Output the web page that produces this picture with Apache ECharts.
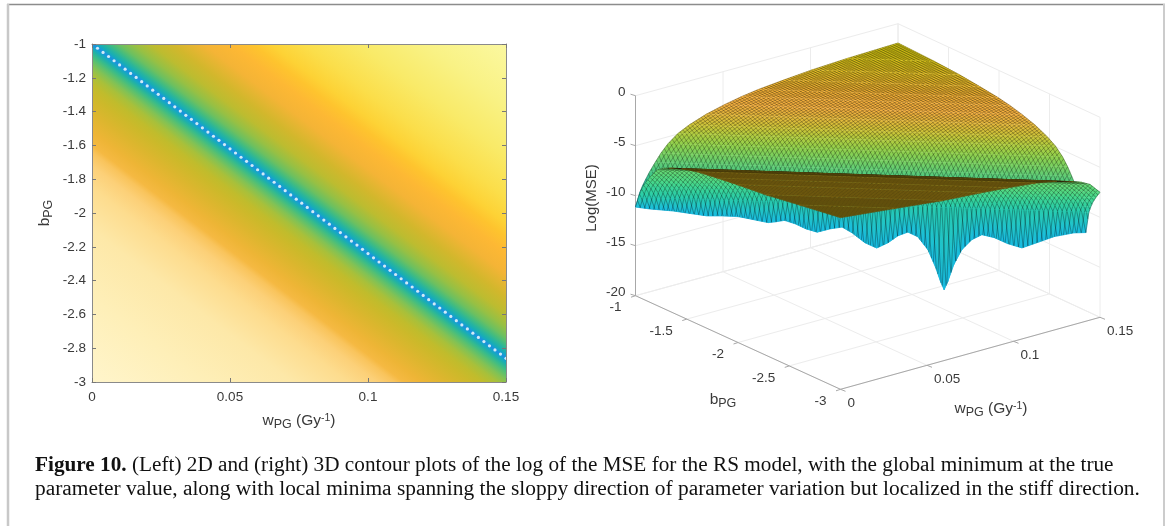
<!DOCTYPE html>
<html><head><meta charset="utf-8">
<style>html,body{margin:0;padding:0;background:#fff}#c{width:1170px;height:526px;filter:blur(0.35px)}</style>
<script src="https://cdn.jsdelivr.net/npm/echarts@6/dist/echarts.min.js"></script>
</head><body><div id="c"></div>
<script>
// ---- Left panel: filled contour lines, read at the w=0 and w=0.15 edges of the plot
const contourB0  = [-3,-2.5,-2.1,-1.85,-1.72,-1.64,-1.6,-1.52,-1.4,-1.3,-1.24,-1.18,-1.13,-1.09,-1.06,-1.04,-1.025,-1.012,-1,-0.988,-0.97,-0.95,-0.92,-0.88,-0.82,-0.74,-0.64,-0.5,-0.38,-0.28,-0.2,-0.05,0.2,0.5,0.86];
const contourB15 = [-4.86,-4.36,-3.96,-3.71,-3.58,-3.5,-3.46,-3.38,-3.26,-3.16,-3.1,-3.04,-2.99,-2.95,-2.92,-2.9,-2.885,-2.872,-2.86,-2.848,-2.83,-2.81,-2.78,-2.74,-2.68,-2.6,-2.5,-2.36,-2.24,-2.14,-2.06,-1.91,-1.66,-1.36,-1];
const contourFill = ['#fff5cb','#feefb8','#fde8a8','#fddc8e','#fcd078','#f9c45c','#f5b942','#eeb536','#dcb62e','#ccb92a','#c0bc2c','#a8c03a','#82c254','#58c070','#36bb8c','#22b2a4','#18aabc','#16a0d0','#1e8fe0','#16a0d0','#18aeb4','#26b4a0','#42bc80','#6cc060','#96c044','#bcbc30','#d2b72c','#f4b436','#fdb834','#fec42e','#fdd235','#fbde4a','#f9ea68','#f9f285','#fbf8a0'];
// White dots along the minimum line
const dotW = [0,0.002,0.004,0.006,0.008,0.01,0.012,0.014,0.016,0.018,0.02,0.022,0.024,0.026,0.028,0.03,0.032,0.034,0.036,0.038,0.04,0.042,0.044,0.046,0.048,0.05,0.052,0.054,0.056,0.058,0.06,0.062,0.064,0.066,0.068,0.07,0.072,0.074,0.076,0.078,0.08,0.082,0.084,0.086,0.088,0.09,0.092,0.094,0.096,0.098,0.1,0.102,0.104,0.106,0.108,0.11,0.112,0.114,0.116,0.118,0.12,0.122,0.124,0.126,0.128,0.13,0.132,0.134,0.136,0.138,0.14,0.142,0.144,0.146,0.148,0.15];
const dotB = [-1,-1.025,-1.05,-1.074,-1.099,-1.124,-1.149,-1.174,-1.198,-1.223,-1.248,-1.273,-1.298,-1.322,-1.347,-1.372,-1.397,-1.422,-1.446,-1.471,-1.496,-1.521,-1.546,-1.57,-1.595,-1.62,-1.645,-1.67,-1.694,-1.719,-1.744,-1.769,-1.794,-1.818,-1.843,-1.868,-1.893,-1.918,-1.942,-1.967,-1.992,-2.017,-2.042,-2.066,-2.091,-2.116,-2.141,-2.166,-2.19,-2.215,-2.24,-2.265,-2.29,-2.314,-2.339,-2.364,-2.389,-2.414,-2.438,-2.463,-2.488,-2.513,-2.538,-2.562,-2.587,-2.612,-2.637,-2.662,-2.686,-2.711,-2.736,-2.761,-2.786,-2.81,-2.835,-2.86];
// ---- Right panel: Log(MSE)
// along the valley floor
const valleyW = [0,0.0048,0.0125,0.0182,0.0237,0.0287,0.0338,0.038,0.044,0.0464,0.0494,0.053,0.0566,0.0603,0.0647,0.0686,0.0719,0.0762,0.0801,0.0839,0.0872,0.0905,0.0938,0.0972,0.0998,0.1014,0.1026,0.1038,0.1058,0.1085,0.1118,0.1152,0.1194,0.1238,0.1286,0.1337,0.1394,0.146,0.15];
const valleyZ = [-11.13,-11.28,-11.4,-11.6,-11.78,-11.73,-11.73,-11.94,-12.25,-12.15,-11.97,-12.28,-12.75,-13.04,-12.66,-12.45,-12.99,-13.94,-14.43,-13.86,-13.13,-12.73,-13.16,-14.43,-16.2,-17.58,-18.37,-17.56,-15.84,-14.31,-13.28,-12.74,-13,-13.55,-13.93,-13.35,-12.69,-12.25,-12.18];
// across the valley: offset in b from the valley line, and Log(MSE) there
const farOffset  = [0,0.03,0.05,0.07,0.1,0.14,0.18,0.23,0.3,0.38,0.5,0.63,0.75,0.87,1.05,1.25,1.5,1.86];
const farZ       = [null,-9.8,-9.2,-8.7,-8,-7.2,-6.45,-5.7,-4.95,-4.4,-3.8,-3.34,-3,-2.75,-2.5,-2.26,-2.08,-1.93];
const farFill    = ['#12a0c8','#18aab0','#22b4a0','#30c098','#48c884','#60cc74','#78d060','#90d04c','#b0cc40','#ccc438','#e4b83c','#f4b040','#f4b03c','#f2b034','#ecb82c','#e8c424','#e2cc18','#dcd010'];
const nearOffset = [0,0.03,0.05,0.07,0.1,0.14,0.21,0.27,0.33,0.45,0.6,0.8,0.99,1.27,1.6,2];
const nearZ      = [null,-10,-9.35,-8.8,-8.2,-7.5,-6.45,-6,-5.7,-5.2,-4.8,-4.5,-4.26,-3.97,-3.45,-2.84];
const nearFill   = ['#18bce0','#28ccb0','#30d0a0','#3ad498','#46d88c','#54d880','#66d872','#70d86a','#7cd462','#8c7414','#907414','#907414','#907414','#907414','#8e7614','#8c7814'];
// axis ticks
const xTicks3D = [0,0.05,0.1,0.15];
const yTicks3D = [-1,-1.5,-2,-2.5,-3];
const zTicks3D = [0,-5,-10,-15,-20];

const FONT = '"Liberation Sans"';
const TXT = '#3a3a3a';
const SLOPE = (-1 - (-2.86)) / 0.15;
const valB = w => -1 - SLOPE * w;
const hypot = Math.hypot;

const L=[635.5,295.7], B=[840.5,389.3], R=[1100,317.3], K=[898,223.7];
function proj(w,b,z){
  const u=w/0.15, v=(-1-b)/2;
  const x=(1-u)*(1-v)*L[0]+(1-u)*v*B[0]+u*v*R[0]+u*(1-v)*K[0];
  const y=(1-u)*(1-v)*L[1]+(1-u)*v*B[1]+u*v*R[1]+u*(1-v)*K[1];
  return [x, y-(z+20)*10];
}
function valleyAt(w){
  for(let i=1;i<valleyW.length;i++){
    if(w<=valleyW[i]){const f=(w-valleyW[i-1])/(valleyW[i]-valleyW[i-1]);return valleyZ[i-1]+f*(valleyZ[i]-valleyZ[i-1]);}
  }
  return valleyZ[valleyZ.length-1];
}
function grad(p0,p1,c0,c1){
  return new echarts.graphic.LinearGradient(p0[0],p0[1],p1[0],p1[1],[{offset:0,color:c0},{offset:1,color:c1}],true);
}
function edgeGrad(a1,a2,b,c0,c1){
  const l=hypot(a2[0]-a1[0],a2[1]-a1[1])||1;
  const n=[-(a2[1]-a1[1])/l,(a2[0]-a1[0])/l];
  const d=(b[0]-a1[0])*n[0]+(b[1]-a1[1])*n[1];
  if(Math.abs(d)<0.4) return c1;
  return grad(a1,[a1[0]+n[0]*d,a1[1]+n[1]*d],c0,c1);
}

function renderContour(params,api){
  const i=params.dataIndex;
  const b0=api.value(0), b15=api.value(1);
  const p0=api.coord([0,b0]), p1=api.coord([0.15,b15]);
  const pts=[p0,p1,api.coord([0.15,4]),api.coord([0,4])];
  let fill=contourFill[i];
  if(i<contourB0.length-1){
    const nb=api.coord([0,contourB0[i+1]]);
    fill=edgeGrad(p0,p1,nb,contourFill[i],contourFill[i+1]);
  }
  return {type:'polygon',shape:{points:pts},style:{fill:fill},silent:true};
}

const MESH_W=100, MESH_B=100;
const strips=[];
for(let j=farOffset.length-2;j>=0;j--) strips.push([1,j]);
for(let j=0;j<nearOffset.length-1;j++) strips.push([-1,j]);

function renderStrip(params,api){
  const sign=api.value(0), j=api.value(1);
  const off=sign>0?farOffset:nearOffset, zs=sign>0?farZ:nearZ, col=sign>0?farFill:nearFill;
  const da=off[j], db=off[j+1], za=zs[j], zb=zs[j+1];
  const pt=(w,d,z)=>api.coord(proj(w,valB(w)+sign*d,z));
  const wLo=d=>sign>0?Math.min(0.15,d/SLOPE):0;
  const wHi=d=>sign>0?0.15:Math.min(0.15,(2-d)/SLOPE);
  const children=[];
  if(j===0){
    for(let i=0;i<valleyW.length-1;i++){
      const w1=valleyW[i], w2=valleyW[i+1];
      const a1=pt(w1,0,valleyZ[i]), a2=pt(w2,0,valleyZ[i+1]);
      const b1=pt(Math.max(w1,wLo(db)),db,zb), b2=pt(Math.max(w2,wLo(db)),db,zb);
      const low=[(a1[0]+a2[0])/2,(a1[1]+a2[1])/2], up=[(b1[0]+b2[0])/2,(b1[1]+b2[1])/2];
      const g=grad([low[0],low[1]],[low[0],up[1]],col[0],col[1]);
      children.push({type:'polygon',shape:{points:[a1,a2,b2,b1]},style:{fill:g,stroke:g,lineWidth:0.5},silent:true});
    }
  } else {
    const a1=pt(wLo(da),da,za), a2=pt(wHi(da),da,za), b1=pt(wLo(db),db,zb), b2=pt(wHi(db),db,zb);
    const g=edgeGrad(a1,a2,b1,col[j],col[j+1]);
    children.push({type:'polygon',shape:{points:[a1,a2,b2,b1]},style:{fill:g,stroke:g,lineWidth:0.5},silent:true});
  }
  let d='';
  const seg=(wA,wB,dA,dB,f0,f1)=>{
    const wAt=f=>wA+(wB-wA)*f, dAt=f=>dA+(dB-dA)*f;
    const zEnd=j===0?valleyAt(Math.max(0,Math.min(0.15,wA))):za;
    const zAt=f=>zEnd+(zb-zEnd)*f;
    const p=pt(wAt(f0),dAt(f0),zAt(f0)), q=pt(wAt(f1),dAt(f1),zAt(f1));
    d+='M'+p[0].toFixed(2)+' '+p[1].toFixed(2)+'L'+q[0].toFixed(2)+' '+q[1].toFixed(2);
  };
  for(let m=0;m<=MESH_W;m++){
    const w=0.15*m/MESH_W;
    const dMax=sign>0?SLOPE*w:2-SLOPE*w;
    if(da>=dMax) continue;
    const f1=db>dMax?(dMax-da)/(db-da):1;
    seg(w,w,da,db,0,f1);
  }
  for(let m=0;m<=MESH_B;m++){
    const b=-1-2*m/MESH_B;
    const wA=(-1+sign*da-b)/SLOPE, wB=(-1+sign*db-b)/SLOPE;
    let f0=0,f1=1;
    const dw=wB-wA;
    if(dw>0){f0=Math.max(f0,(0-wA)/dw);f1=Math.min(f1,(0.15-wA)/dw);}
    else if(dw<0){f0=Math.max(f0,(0.15-wA)/dw);f1=Math.min(f1,(0-wA)/dw);}
    if(f1<=f0) continue;
    seg(wA,wB,da,db,f0,f1);
  }
  const op=sign>0?0.5:(da>=0.33?0.36:0.55);
  children.push({type:'path',shape:{pathData:d},style:{fill:'none',stroke:'#000',lineWidth:0.55,opacity:op},silent:true});
  return {type:'group',children:children};
}

function renderBox(params,api){
  const c=(w,b,z)=>api.coord(proj(w,b,z));
  const kids=[];
  const line=(p,q,col,lw)=>kids.push({type:'line',shape:{x1:p[0],y1:p[1],x2:q[0],y2:q[1]},style:{stroke:col,lineWidth:lw},silent:true});
  const grid='#ececec', ax='#a8a8a8';
  const wMax=0.15,bMax=-1,bMin=-3,zMax=0,zMin=-20;
  xTicks3D.forEach(w=>{ line(c(w,bMax,zMin),c(w,bMin,zMin),grid,1); line(c(w,bMax,zMin),c(w,bMax,zMax),grid,1); });
  yTicks3D.forEach(b=>{ line(c(0,b,zMin),c(wMax,b,zMin),grid,1); line(c(wMax,b,zMin),c(wMax,b,zMax),grid,1); });
  zTicks3D.forEach(z=>{ line(c(0,bMax,z),c(wMax,bMax,z),grid,1); line(c(wMax,bMax,z),c(wMax,bMin,z),grid,1); });
  line(c(0,bMax,zMin),c(0,bMax,zMax),ax,1);
  line(c(0,bMax,zMin),c(0,bMin,zMin),ax,1);
  line(c(0,bMin,zMin),c(wMax,bMin,zMin),ax,1);
  const text=(s,x,y,al)=>kids.push({type:'text',style:{text:s,x:x,y:y,textAlign:al,verticalAlign:'middle',textVerticalAlign:'middle',fontFamily:FONT,fontSize:13.5,fill:TXT},silent:true});
  zTicks3D.forEach(z=>{const p=c(0,bMax,z); line(p,[p[0]-5,p[1]-1.5],ax,1); text(String(z),p[0]-10,p[1]-3,'right');});
  yTicks3D.forEach(b=>{const p=c(0,b,zMin); line(p,[p[0]-4.5,p[1]+1.5],ax,1); text(String(b),p[0]-14,p[1]+12,'right');});
  xTicks3D.forEach(w=>{const p=c(w,bMin,zMin); line(p,[p[0]+5,p[1]+2],ax,1); text(String(w),p[0]+7,p[1]+14,'left');});
  return {type:'group',children:kids};
}

const subRich={
  m:{fontFamily:FONT,fontSize:15.5,fill:TXT,color:TXT,lineHeight:18,verticalAlign:'top'},
  s:{fontFamily:FONT,fontSize:12.5,fill:TXT,color:TXT,lineHeight:14,verticalAlign:'bottom',padding:[6,0,0,0]},
  t:{fontFamily:FONT,fontSize:10.5,fill:TXT,color:TXT,lineHeight:10,verticalAlign:'top'}};
const capRich={n:{fontFamily:'"Liberation Serif"',fontSize:20,fill:'#111'},b:{fontFamily:'"Liberation Serif"',fontSize:20,fontWeight:'bold',fill:'#111'}};

const mirror=(extra)=>Object.assign({type:'value',gridIndex:0,z:6,axisLabel:{show:false},splitLine:{show:false},axisLine:{show:true,onZero:false,lineStyle:{color:'#8a8a8a',width:1}},axisTick:{show:true,inside:true,length:4,lineStyle:{color:'#777'}}},extra);
const axLabel={fontFamily:FONT,fontSize:13.5,color:TXT};

const option={
  animation:false,
  backgroundColor:'#fff',
  grid:[{left:92,top:44,width:414,height:338},{left:0,top:0,width:1170,height:526,show:false}],
  xAxis:[
    mirror({min:0,max:0.15,interval:0.05,position:'bottom',axisLabel:Object.assign({show:true,margin:8,formatter:v=>String(+v.toFixed(2))},axLabel),
      name:'{m|w}{s|PG}{m| (Gy}{t|-1}{m|)}',nameLocation:'middle',nameGap:31,nameTextStyle:{rich:subRich}}),
    mirror({min:0,max:0.15,interval:0.05,position:'top'}),
    {type:'value',gridIndex:1,min:0,max:1170,show:false}
  ],
  yAxis:[
    mirror({min:-3,max:-1,interval:0.2,position:'left',axisLabel:Object.assign({show:true,margin:6,formatter:v=>String(+v.toFixed(1))},axLabel),
      name:'{m|b}{s|PG}',nameLocation:'middle',nameGap:37,nameTextStyle:{rich:subRich}}),
    mirror({min:-3,max:-1,interval:0.2,position:'right'}),
    {type:'value',gridIndex:1,min:0,max:526,inverse:true,show:false}
  ],
  series:[
    {type:'custom',name:'contour',coordinateSystem:'cartesian2d',xAxisIndex:0,yAxisIndex:0,clip:true,z:2,
      data:contourB0.map((b,i)=>[b,contourB15[i]]),encode:{x:[],y:[]},renderItem:renderContour},
    {type:'scatter',name:'minimum',xAxisIndex:0,yAxisIndex:0,z:3,symbol:'circle',symbolSize:3.2,itemStyle:{color:'#fff'},
      data:dotW.map((w,i)=>[w,dotB[i]]),silent:true},
    {type:'custom',name:'box',coordinateSystem:'cartesian2d',xAxisIndex:2,yAxisIndex:2,z:1,data:[[0,0]],renderItem:renderBox},
    {type:'custom',name:'surface',coordinateSystem:'cartesian2d',xAxisIndex:2,yAxisIndex:2,z:2,data:strips,encode:{x:[],y:[]},renderItem:renderStrip}
  ],
  graphic:{elements:[
    {type:'line',silent:true,shape:{x1:7,y1:4.5,x2:1165,y2:4.5},style:{stroke:'#8c8c8c',lineWidth:1.5}},
    {type:'line',silent:true,shape:{x1:8,y1:4,x2:8,y2:526},style:{stroke:'#c8c8c8',lineWidth:2.5}},
    {type:'line',silent:true,shape:{x1:1164,y1:4,x2:1164,y2:526},style:{stroke:'#cccccc',lineWidth:2}},
    {type:'text',silent:true,x:592,y:198,rotation:Math.PI/2,style:{text:'Log(MSE)',fontFamily:FONT,fontSize:15,fill:TXT,textAlign:'center',verticalAlign:'middle'}},
    {type:'text',silent:true,x:723,y:401,style:{text:'{m|b}{s|PG}',rich:subRich,textAlign:'center',verticalAlign:'middle'}},
    {type:'text',silent:true,x:991,y:410,style:{text:'{m|w}{s|PG}{m| (Gy}{t|-1}{m|)}',rich:subRich,textAlign:'center',verticalAlign:'middle'}},
    {type:'text',silent:true,x:35,y:466,scaleX:1.062,style:{text:'{b|Figure 10.}{n| (Left) 2D and (right) 3D contour plots of the log of the MSE for the RS model, with the global minimum at the true}',rich:capRich,verticalAlign:'middle'}},
    {type:'text',silent:true,x:35,y:490,scaleX:1.07,style:{text:'{n|parameter value, along with local minima spanning the sloppy direction of parameter variation but localized in the stiff direction.}',rich:capRich,verticalAlign:'middle'}}
  ]}
};
echarts.init(document.getElementById('c'),null,{renderer:'canvas'}).setOption(option);
</script></body></html>
